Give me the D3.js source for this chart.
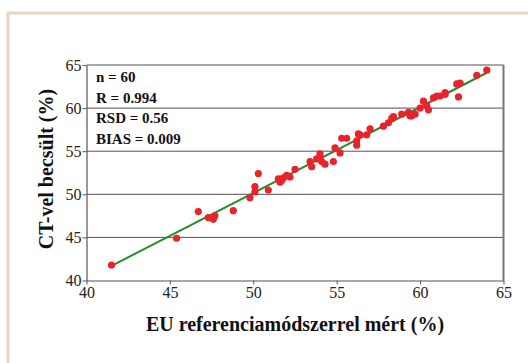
<!DOCTYPE html>
<html>
<head>
<meta charset="utf-8">
<script src="https://cdn.jsdelivr.net/npm/d3@7"></script>
<style>
  html, body { margin: 0; padding: 0; background: #fff; }
  svg { display: block; }
  .serif { font-family: "Liberation Serif", "Times New Roman", Tinos, "DejaVu Serif", serif; }
</style>
</head>
<body>
<svg id="chart" width="528" height="363"></svg>
<script>
// Reference method (x) vs. CT estimate (y), lean meat percentage
const refValues = [
  41.5, 45.4, 46.7, 47.3, 47.6, 47.7, 48.8, 49.8, 50.1, 50.1,
  50.3, 50.9, 51.5, 51.6, 51.8, 52.0, 52.2, 52.5, 53.4, 53.5,
  53.8, 54.0, 54.0, 54.1, 54.3, 54.8, 54.9, 55.2, 55.3, 55.6,
  56.2, 56.2, 56.3, 56.4, 56.8, 57.0, 57.8, 58.1, 58.3, 58.4,
  58.9, 59.3, 59.4, 59.5, 59.7, 60.0, 60.2, 60.4, 60.5, 60.8,
  61.0, 61.2, 61.5, 61.5, 62.2, 62.4, 62.3, 63.4, 64.0, 51.7
];
const ctValues = [
  41.8, 44.9, 48.0, 47.3, 47.1, 47.5, 48.1, 49.6, 50.9, 50.3,
  52.4, 50.5, 51.8, 51.4, 51.9, 52.2, 52.0, 52.9, 53.8, 53.2,
  54.1, 54.7, 54.3, 53.8, 53.5, 53.8, 55.4, 54.8, 56.5, 56.5,
  55.7, 56.2, 57.0, 56.9, 56.9, 57.6, 57.9, 58.3, 58.8, 59.0,
  59.3, 59.5, 59.1, 59.1, 59.3, 60.0, 60.8, 60.3, 59.8, 61.2,
  61.4, 61.4, 61.6, 61.8, 62.8, 62.9, 61.3, 63.8, 64.4, 51.6
];
// Fitted regression line end points
const fitX = [41.5, 64.0];
const fitY = [41.7, 64.1];

const xTicks = [40, 45, 50, 55, 60, 65];
const yTicks = [40, 45, 50, 55, 60, 65];
const statLines = ["n = 60", "R = 0.994", "RSD = 0.56", "BIAS = 0.009"];

const svg = d3.select("#chart");

// light page frame
svg.append("rect")
  .attr("x", 8).attr("y", 13)
  .attr("width", 560).attr("height", 400)
  .attr("fill", "#fff")
  .attr("stroke", "#e6d6c1")
  .attr("stroke-width", 3);

const m = { left: 86.5, right: 503.5, top: 65, bottom: 280.5 };
const x = d3.scaleLinear().domain([40, 65]).range([m.left, m.right]);
const y = d3.scaleLinear().domain([40, 65]).range([m.bottom, m.top]);

// horizontal grid lines
svg.append("g")
  .selectAll("line")
  .data(yTicks.filter(t => t > 40 && t < 65))
  .join("line")
  .attr("x1", m.left).attr("x2", m.right)
  .attr("y1", d => y(d)).attr("y2", d => y(d))
  .attr("stroke", "#505050")
  .attr("stroke-width", 1);

// plot frame (top and right)
svg.append("line")
  .attr("x1", m.left).attr("x2", m.right)
  .attr("y1", m.top).attr("y2", m.top)
  .attr("stroke", "#555").attr("stroke-width", 1.2);
svg.append("line")
  .attr("x1", m.right).attr("x2", m.right)
  .attr("y1", m.top).attr("y2", m.bottom)
  .attr("stroke", "#777").attr("stroke-width", 2);

// axes
const xAxis = svg.append("g")
  .attr("transform", `translate(0,${m.bottom})`)
  .call(d3.axisBottom(x).tickValues(xTicks).tickSize(4).tickSizeOuter(0).tickPadding(2));
const yAxis = svg.append("g")
  .attr("transform", `translate(${m.left},0)`)
  .call(d3.axisLeft(y).tickValues(yTicks).tickSize(4).tickSizeOuter(0).tickPadding(1));

[xAxis, yAxis].forEach(g => {
  g.attr("font-family", null).attr("font-size", null);
  g.select(".domain").attr("stroke", "#555").attr("stroke-width", 1.2);
  g.selectAll(".tick line").attr("stroke", "#555");
  g.selectAll(".tick text")
    .attr("class", "serif")
    .attr("fill", "#222")
    .style("font-size", "16px");
});

// regression line
svg.append("line")
  .attr("x1", x(fitX[0])).attr("y1", y(fitY[0]))
  .attr("x2", x(fitX[1])).attr("y2", y(fitY[1]))
  .attr("stroke", "#2b8a2b")
  .attr("stroke-width", 2);

// points
svg.append("g")
  .selectAll("circle")
  .data(refValues.map((v, i) => [v, ctValues[i]]))
  .join("circle")
  .attr("cx", d => x(d[0]))
  .attr("cy", d => y(d[1]))
  .attr("r", 3.6)
  .attr("fill", "#e8232b");

// statistics block
svg.append("g")
  .selectAll("text")
  .data(statLines)
  .join("text")
  .attr("class", "serif")
  .attr("x", 96)
  .attr("y", (d, i) => 82 + i * 20.7)
  .attr("fill", "#111")
  .style("font-weight", "bold")
  .style("font-size", "15px")
  .text(d => d);

// axis titles
svg.append("text")
  .attr("class", "serif")
  .attr("x", (m.left + m.right) / 2)
  .attr("y", 331)
  .attr("text-anchor", "middle")
  .attr("fill", "#111")
  .style("font-weight", "bold")
  .style("font-size", "20px")
  .text("EU referenciamódszerrel mért (%)");

svg.append("text")
  .attr("class", "serif")
  .attr("transform", `translate(53,169) rotate(-90)`)
  .attr("text-anchor", "middle")
  .attr("fill", "#111")
  .style("font-weight", "bold")
  .style("font-size", "20px")
  .text("CT-vel becsült (%)");
</script>
</body>
</html>
